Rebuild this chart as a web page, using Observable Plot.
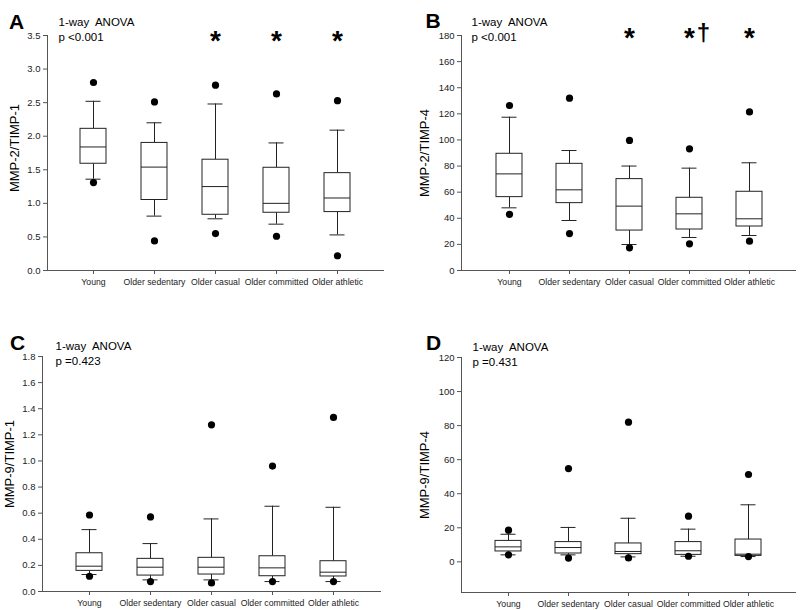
<!DOCTYPE html>
<html><head><meta charset="utf-8">
<script src="https://cdn.jsdelivr.net/npm/d3@7"></script>
<script src="https://cdn.jsdelivr.net/npm/@observablehq/plot@0.6"></script>
<style>
body{margin:0;background:#fff;}
#wrap{position:relative;width:800px;height:610px;overflow:hidden;background:#fff;}
.panel{position:absolute;}
</style></head><body><div id="wrap"></div>
<script>
const groups = ["Young", "Older sedentary", "Older casual", "Older committed", "Older athletic"];

// Panel A: MMP-2/TIMP-1
const aOutHi   = [2.80, 2.51, 2.76, 2.63, 2.53];
const aWhiskHi = [2.52, 2.20, 2.48, 1.90, 2.09];
const aQ3      = [2.11, 1.90, 1.65, 1.53, 1.45];
const aMedian  = [1.84, 1.54, 1.25, 1.00, 1.08];
const aQ1      = [1.59, 1.05, 0.83, 0.86, 0.87];
const aWhiskLo = [1.36, 0.81, 0.77, 0.69, 0.53];
const aOutLo   = [1.31, 0.44, 0.55, 0.51, 0.22];

// Panel B: MMP-2/TIMP-4
const bOutHi   = [126.4, 132.0, 99.6, 93.2, 121.5];
const bWhiskHi = [117.4, 91.9, 80.0, 78.4, 82.5];
const bQ3      = [89.4, 81.7, 70.0, 55.7, 60.3];
const bMedian  = [74.0, 61.8, 49.3, 43.4, 39.6];
const bQ1      = [56.2, 51.6, 30.6, 31.4, 33.7];
const bWhiskLo = [48.0, 38.3, 19.9, 25.3, 26.8];
const bOutLo   = [43.0, 28.3, 17.4, 20.4, 22.5];

// Panel C: MMP-9/TIMP-1
const cOutHi   = [0.586, 0.571, 1.277, 0.961, 1.333];
const cWhiskHi = [0.474, 0.367, 0.556, 0.653, 0.645];
const cQ3      = [0.293, 0.250, 0.258, 0.270, 0.232];
const cMedian  = [0.194, 0.186, 0.186, 0.181, 0.148];
const cQ1      = [0.158, 0.122, 0.130, 0.117, 0.115];
const cWhiskLo = [0.130, 0.089, 0.089, 0.076, 0.076];
const cOutLo   = [0.117, 0.076, 0.066, 0.076, 0.076];

// Panel D: MMP-9/TIMP-4
const dOutHi   = [18.6, 54.8, 82.0, 26.8, 51.3];
const dWhiskHi = [16.2, 20.2, 25.6, 19.2, 33.5];
const dQ3      = [12.3, 11.6, 10.8, 11.6, 13.1];
const dMedian  = [8.8, 8.4, 6.1, 6.5, 4.5];
const dQ1      = [6.1, 4.9, 4.5, 4.1, 3.5];
const dWhiskLo = [4.1, 4.1, 2.9, 3.3, 3.1];
const dOutLo   = [4.1, 2.2, 2.3, 3.3, 3.1];

const yTicksA = [0, 0.5, 1, 1.5, 2, 2.5, 3, 3.5];
const yTicksB = [0, 20, 40, 60, 80, 100, 120, 140, 160, 180];
const yTicksC = [0, 0.2, 0.4, 0.6, 0.8, 1.0, 1.2, 1.4, 1.6, 1.8];
const yTicksD = [0, 20, 40, 60, 80, 100, 120];

const panelLetters = ["A", "B", "C", "D"];
const yTitles = ["MMP-2/TIMP-1", "MMP-2/TIMP-4", "MMP-9/TIMP-1", "MMP-9/TIMP-4"];
const anovaLine1 = "1-way  ANOVA";
const anovaP = ["p <0.001", "p <0.001", "p =0.423", "p =0.431"];
const starsA = ["Older casual", "Older committed", "Older athletic"];
const starsB = ["Older casual", "Older committed", "Older athletic"];
const daggersB = ["Older committed"];

const FONT = "Arial, 'Liberation Sans', sans-serif";
const AX = "#555";

function rowsOf(oh, wh, q3, md, q1, wl, ol) {
  return groups.map((g, i) => ({g, oh: oh[i], wh: wh[i], q3: q3[i], md: md[i], q1: q1[i], wl: wl[i], ol: ol[i]}));
}

function panel(cfg) {
  const rows = cfg.rows;
  const marks = [
    Plot.frame({anchor: "left", stroke: AX}),
    Plot.frame({anchor: "bottom", stroke: AX}),
    Plot.axisY({ticks: cfg.ticks, tickFormat: cfg.fmt, tickSize: 4, tickPadding: 3, fontSize: 9.5, label: null, stroke: AX, fill: "#222"}),
    Plot.axisX({tickSize: 4, tickPadding: 4, fontSize: 8.7, label: null, stroke: AX, fill: "#222"}),
    Plot.ruleX(rows, {x: "g", y1: "q3", y2: "wh", stroke: "#222"}),
    Plot.ruleX(rows, {x: "g", y1: "q1", y2: "wl", stroke: "#222"}),
    Plot.tickY(rows, {x: "g", y: "wh", insetLeft: 5.5, insetRight: 5.5, stroke: "#222"}),
    Plot.tickY(rows, {x: "g", y: "wl", insetLeft: 5.5, insetRight: 5.5, stroke: "#222"}),
    Plot.barY(rows, {x: "g", y1: "q1", y2: "q3", fill: "white", stroke: "#222"}),
    Plot.tickY(rows, {x: "g", y: "md", stroke: "#222"}),
    Plot.dot(rows, {x: "g", y: "oh", r: 3.6, fill: "black", stroke: "none"}),
    Plot.dot(rows, {x: "g", y: "ol", r: 3.6, fill: "black", stroke: "none"}),
    Plot.text([cfg.letter], {text: d => d, frameAnchor: "top-left", dx: cfg.letterDx, dy: cfg.letterDy, fontSize: 21, fontWeight: "bold", textAnchor: "middle", fill: "black"}),
    Plot.text([anovaLine1], {text: d => d, frameAnchor: "top-left", dx: cfg.anovaDx, dy: cfg.anovaDy, fontSize: 11.5, textAnchor: "start", fill: "black"}),
    Plot.text([cfg.p], {text: d => d, frameAnchor: "top-left", dx: cfg.anovaDx, dy: cfg.anovaDy + 15, fontSize: 11.5, textAnchor: "start", fill: "black"}),
    Plot.text([cfg.title], {text: d => d, frameAnchor: "left", dx: cfg.titleDx, dy: cfg.titleDy, rotate: -90, fontSize: 13, textAnchor: "middle", fill: "black"})
  ];
  if (cfg.stars) marks.push(Plot.text(cfg.stars, {x: d => d, text: () => "*", frameAnchor: "top", dy: cfg.starDy, dx: cfg.starDx || 0, fontSize: 28, fontWeight: "bold", fill: "black"}));
  if (cfg.daggers) marks.push(Plot.text(cfg.daggers, {x: d => d, text: () => "†", frameAnchor: "top", dy: cfg.daggerDy, dx: cfg.daggerDx, fontSize: 24, fontWeight: "bold", fill: "black"}));
  const svg = Plot.plot({
    width: 400, height: cfg.height,
    marginLeft: cfg.ml, marginRight: cfg.mr, marginTop: cfg.mt, marginBottom: cfg.mb,
    style: {fontFamily: FONT, background: "white", color: "#222"},
    x: {domain: groups, range: cfg.xr, paddingInner: 0.574, paddingOuter: 0.287, label: null},
    y: {domain: cfg.ydom, label: null},
    marks
  });
  const div = document.createElement("div");
  div.className = "panel";
  div.style.left = cfg.left + "px";
  div.style.top = cfg.top + "px";
  div.appendChild(svg);
  document.getElementById("wrap").appendChild(div);
}

const f1 = d3.format(".1f");
const f0 = d3.format("d");

panel({left: 0, top: 0, height: 300, ml: 47, mr: 17, mt: 35, mb: 30, xr: [62.8, 367.8],
  ydom: [0, 3.5], ticks: yTicksA, fmt: f1, rows: rowsOf(aOutHi, aWhiskHi, aQ3, aMedian, aQ1, aWhiskLo, aOutLo),
  letter: panelLetters[0], p: anovaP[0], title: yTitles[0],
  letterDx: -31, letterDy: -21, anovaDx: 11, anovaDy: -18, titleDx: -33, titleDy: -5,
  stars: starsA, starDy: -5});

panel({left: 400, top: 0, height: 300, ml: 61, mr: 5, mt: 35, mb: 30, xr: [77.5, 379.5],
  ydom: [0, 180], ticks: yTicksB, fmt: f0, rows: rowsOf(bOutHi, bWhiskHi, bQ3, bMedian, bQ1, bWhiskLo, bOutLo),
  letter: panelLetters[1], p: anovaP[1], title: yTitles[1],
  letterDx: -28.5, letterDy: -22, anovaDx: 10, anovaDy: -18, titleDx: -37, titleDy: 0,
  stars: starsB, starDy: -8, daggers: daggersB, daggerDy: -12, daggerDx: 14});

panel({left: 0, top: 300, height: 310, ml: 42, mr: 20, mt: 56, mb: 19, xr: [58.8, 363.8],
  ydom: [0, 1.8], ticks: yTicksC, fmt: f1, rows: rowsOf(cOutHi, cWhiskHi, cQ3, cMedian, cQ1, cWhiskLo, cOutLo),
  letter: panelLetters[2], p: anovaP[2], title: yTitles[2],
  letterDx: -25, letterDy: -21, anovaDx: 13, anovaDy: -15, titleDx: -33, titleDy: -10});

panel({left: 400, top: 300, height: 310, ml: 61, mr: 5, mt: 57, mb: 18, xr: [76.5, 378.5],
  ydom: [-18, 120], ticks: yTicksD, fmt: f0, rows: rowsOf(dOutHi, dWhiskHi, dQ3, dMedian, dQ1, dWhiskLo, dOutLo),
  letter: panelLetters[3], p: anovaP[3], title: yTitles[3],
  letterDx: -28, letterDy: -22, anovaDx: 11, anovaDy: -15, titleDx: -37, titleDy: 0});
</script></body></html>
